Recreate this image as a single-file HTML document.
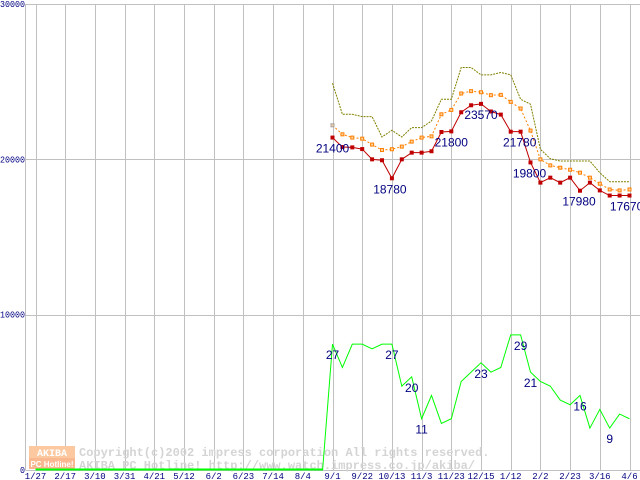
<!DOCTYPE html>
<html><head><meta charset="utf-8"><style>
html,body{margin:0;padding:0;background:#fff;}
svg{display:block;}
</style></head><body>
<svg id="chart" width="640" height="480" xmlns="http://www.w3.org/2000/svg" font-family="Liberation Sans, sans-serif"></svg>
<script>
const xTickLabels = ["1/27","2/17","3/10","3/31","4/21","5/12","6/2","6/23","7/14","8/4","9/1","9/22","10/13","11/3","11/23","12/15","1/12","2/2","2/23","3/16","4/6"];
const yTickValues = [0,10000,20000,30000];
const startWeek = 30;
const priceMin = [21400,20790,20770,20660,20000,19940,18780,20000,20430,20430,20520,21760,21800,23030,23480,23570,23080,22880,21780,21780,19800,18500,18820,18500,18820,17980,18500,18000,17670,17670,17670];
const priceAvg = [22190,21610,21400,21330,20950,20600,20650,20820,21140,21400,21480,22900,23180,24240,24390,24320,24130,24150,23700,23270,21850,20000,19610,19460,19330,19140,18820,18430,18060,18000,18060];
const priceMax = [24900,22900,22900,22750,22750,21440,21870,21440,22040,22040,22470,23870,23870,25910,25910,25440,25440,25590,25440,23870,23550,20650,20040,19890,19890,19890,19890,19140,18560,18560,18560];
const shopCount = [27,22,27,27,26,27,27,18,20,11,16,10,11,19,21,23,21,22,29,29,21,19,18,15,14,16,9,13,9,12,11];
const priceLabelIdx = [0,6,12,15,18,20,25,29];
const priceLabelDx = [0,-2,0,0,9,-1,-1,7];
const countLabelIdx = [0,6,8,9,15,19,20,25,28];
const countLabelDx = [0,0,0,0,0,0,0,0,0];

const svg = document.getElementById('chart');
const NS = "http://www.w3.org/2000/svg";
const X0 = 35.5, WK = 9.9, Y0 = 470, YTOP = 4;
const xW = w => X0 + WK * w;
const yP = v => Y0 - (Y0 - YTOP) * v / 30000;
const yC = v => Y0 - (Y0 - YTOP) * v / 100;
function el(tag, attrs, parent){const e=document.createElementNS(NS,tag);for(const k in attrs)e.setAttribute(k,attrs[k]);(parent||svg).appendChild(e);return e;}

const grid = el('g',{});


el('line',{x1:25.5,y1:YTOP+0.5,x2:640,y2:YTOP+0.5,stroke:'#c0c0c0'},grid);
el('line',{x1:25.5,y1:YTOP,x2:25.5,y2:Y0,stroke:'#c0c0c0'},grid);
yTickValues.forEach(v=>{
  if(v>0&&v<30000) el('line',{x1:25.5,y1:Math.round(yP(v))+0.5,x2:640,y2:Math.round(yP(v))+0.5,stroke:'#c0c0c0'},grid);
});
xTickLabels.forEach((t,i)=>{
  const x=Math.round(xW(i*3))+0.5;
  el('line',{x1:x,y1:YTOP,x2:x,y2:Y0,stroke:'#c0c0c0'},grid);
});
el('line',{x1:25.5,y1:Y0+0.5,x2:640,y2:Y0+0.5,stroke:'#c0c0c0'},grid);

const wm = el('g',{});


el('rect',{x:29,y:446,width:46,height:12,fill:'#fbc8a0'},wm);
el('rect',{x:29,y:458,width:46,height:11,fill:'#f9b890'},wm);
const t1=el('text',{x:52,y:456,'font-size':10,'font-weight':'bold',fill:'#fff','text-anchor':'middle','font-family':'Liberation Mono, monospace'},wm);t1.textContent='AKIBA';
const t2=el('text',{x:52,y:467,'font-size':8,'font-weight':'bold',fill:'#fff','text-anchor':'middle'},wm);t2.textContent='PC Hotline!';
const c1=el('text',{x:79,y:456,'font-size':12,'font-weight':'bold',fill:'#d4d4d4','font-family':'Liberation Mono, monospace'},wm);c1.textContent='Copyright(c)2002 impress corporation All rights reserved.';
const c2=el('text',{x:79,y:469,'font-size':12,'font-weight':'bold',fill:'#d4d4d4','font-family':'Liberation Mono, monospace','xml:space':'preserve'},wm);c2.textContent='AKIBA PC Hotline!  http://www.watch.impress.co.jp/akiba/';

yTickValues.forEach(v=>{
  const s=String(v);
  const t=el('text',{x:25,y:yP(v)+3,'font-size':9,fill:'#000080','text-anchor':'end','font-family':'Liberation Mono, monospace',textLength:s.length*5,lengthAdjust:'spacingAndGlyphs'});
  
  
  t.textContent=s;
});
xTickLabels.forEach((s,i)=>{
  const t=el('text',{x:xW(i*3),y:479,'font-size':9,fill:'#000080','text-anchor':'middle','font-family':'Liberation Mono, monospace'});
  
  
  t.textContent=s;
});

let gp=[];
for(let w=0;w<startWeek;w++) gp.push(xW(w)+','+yC(0));
shopCount.forEach((v,i)=>gp.push(xW(startWeek+i)+','+yC(v)));
const gl=el('polyline',{points:gp.join(' '),fill:'none',stroke:'#00ff00','stroke-width':1});


el('line',{x1:xW(0),y1:Y0-0.5,x2:xW(startWeek-1),y2:Y0-0.5,stroke:'#00ff00','stroke-width':2});

const ml=el('polyline',{points:priceMax.map((v,i)=>xW(startWeek+i)+','+yP(v)).join(' '),fill:'none',stroke:'#808000','stroke-width':1,'stroke-dasharray':'2,1'});



const al=el('polyline',{points:priceAvg.map((v,i)=>xW(startWeek+i)+','+yP(v)).join(' '),fill:'none',stroke:'#ff8000','stroke-width':1,'stroke-dasharray':'2,2'});


priceAvg.forEach((v,i)=>{
  const r=el('rect',{x:xW(startWeek+i)-1.5,y:yP(v)-1.5,width:3,height:3,fill:'#ffd0a0',stroke:i==0?'#a0a0a0':'#ff8000','stroke-width':1});
  
  
});

const rl=el('polyline',{points:priceMin.map((v,i)=>xW(startWeek+i)+','+yP(v)).join(' '),fill:'none',stroke:'#c00000','stroke-width':1});


priceMin.forEach((v,i)=>{
  const r=el('rect',{x:xW(startWeek+i)-2,y:yP(v)-2,width:4,height:4,fill:'#c00000'});
  
  
});

priceLabelIdx.forEach((idx,k)=>{
  const t=el('text',{x:xW(startWeek+idx)+priceLabelDx[k],y:yP(priceMin[idx])+15,'font-size':12,fill:'#000080','text-anchor':'middle'});
  
  
  t.textContent=priceMin[idx];
});
countLabelIdx.forEach((idx,k)=>{
  const t=el('text',{x:xW(startWeek+idx)+countLabelDx[k],y:yC(shopCount[idx])+15,'font-size':12,fill:'#000080','text-anchor':'middle'});
  
  
  t.textContent=shopCount[idx];
});
</script>
</body></html>
